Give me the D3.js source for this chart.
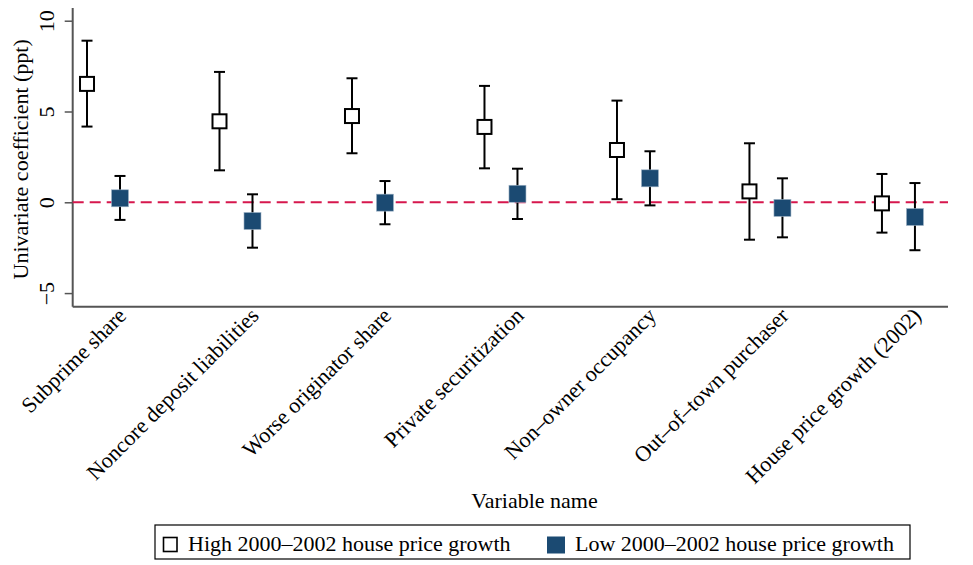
<!DOCTYPE html>
<html>
<head>
<meta charset="utf-8">
<script src="https://cdn.jsdelivr.net/npm/d3@7"></script>
<style>
  body { margin: 0; background: #fff; }
  svg { display: block; font-family: "Liberation Serif", "Times New Roman", serif; }
</style>
</head>
<body>
<svg id="chart" width="973" height="565"></svg>
<script>
const categories = ["Subprime share", "Noncore deposit liabilities", "Worse originator share",
  "Private securitization", "Non\u2013owner occupancy", "Out\u2013of\u2013town purchaser",
  "House price growth (2002)"];
const highCoef = [6.52, 4.46, 4.75, 4.15, 2.88, 0.60, -0.06];
const highLo   = [4.17, 1.76, 2.70, 1.87, 0.17, -2.06, -1.67];
const highHi   = [8.90, 7.18, 6.83, 6.41, 5.60, 3.25, 1.56];
const lowCoef  = [0.22, -1.03, -0.02, 0.47, 1.32, -0.31, -0.81];
const lowLo    = [-0.97, -2.50, -1.21, -0.92, -0.17, -1.93, -2.64];
const lowHi    = [1.45, 0.44, 1.17, 1.85, 2.81, 1.32, 1.06];
const yTicks = [-5, 0, 5, 10];
const yTickLabels = ["\u22125", "0", "5", "10"];
const seriesNames = ["High 2000\u20132002 house price growth", "Low 2000\u20132002 house price growth"];

const svg = d3.select("#chart");
const x = d3.scaleLinear().domain([0.7675, 7.374]).range([72.7, 948]);
const y = d3.scaleLinear().domain([-5.75, 10.7]).range([306.7, 8]);
const off = 0.1245;
const navy = "#1b4a72";

// axes
const yAxis = d3.axisLeft(y).tickValues(yTicks).tickSize(8).tickFormat((d, i) => yTickLabels[i]);
const gy = svg.append("g").attr("transform", "translate(72.7,0)").call(yAxis);
gy.select(".domain").attr("stroke", "#555").attr("stroke-width", 2).attr("d", `M0,${y.range()[1]}V${y.range()[0]}`);
gy.selectAll(".tick line").attr("stroke", "#555").attr("stroke-width", 1.5);
gy.selectAll(".tick text").remove();
gy.selectAll(".tick").append("text")
  .attr("transform", "translate(-19,0) rotate(-90)")
  .attr("text-anchor", "middle")
  .attr("fill", "#000")
  .style("font-size", "22px")
  .style("font-family", "Liberation Serif, serif")
  .text((d, i) => yTickLabels[i]);

svg.append("line").attr("x1", 72.7).attr("x2", 948).attr("y1", 306.7).attr("y2", 306.7)
  .attr("stroke", "#555").attr("stroke-width", 2);

// zero line
svg.append("line").attr("x1", x.range()[0]).attr("x2", x.range()[1]).attr("y1", y(0)).attr("y2", y(0))
  .attr("stroke", "#d6174d").attr("stroke-width", 2).attr("stroke-dasharray", "11,6");

// y title
svg.append("text").attr("transform", `translate(28,${(y(10.7) + y(-5.75)) / 2 + 2}) rotate(-90)`)
  .attr("text-anchor", "middle").style("font-size", "22px").text("Univariate coefficient (ppt)");

// x labels
svg.selectAll(".xlab").data(categories).enter().append("text")
  .attr("class", "xlab")
  .attr("transform", (d, i) => `translate(${x(i + 1) + 24},317) rotate(-45)`)
  .attr("text-anchor", "end").style("font-size", "22px").text(d => d);

svg.append("text").attr("x", 534.5).attr("y", 508).attr("text-anchor", "middle")
  .style("font-size", "22px").text("Variable name");

// error bars + markers
function drawSeries(coef, lo, hi, dx, filled) {
  const g = svg.append("g");
  const cap = 5.5;
  coef.forEach((c, i) => {
    const cx = x(i + 1 + dx);
    g.append("line").attr("x1", cx).attr("x2", cx).attr("y1", y(lo[i])).attr("y2", y(hi[i]))
      .attr("stroke", "#000").attr("stroke-width", 2);
    [lo[i], hi[i]].forEach(v => g.append("line").attr("x1", cx - cap).attr("x2", cx + cap)
      .attr("y1", y(v)).attr("y2", y(v)).attr("stroke", "#000").attr("stroke-width", 2));
    if (filled) {
      g.append("rect").attr("x", cx - 8.5).attr("y", y(c) - 8.5).attr("width", 17).attr("height", 17)
        .attr("fill", navy).attr("stroke", "#9fb3c6").attr("stroke-width", 0.6);
    } else {
      g.append("rect").attr("x", cx - 7).attr("y", y(c) - 7).attr("width", 14).attr("height", 14)
        .attr("fill", "#fff").attr("stroke", "#000").attr("stroke-width", 2);
    }
  });
}
drawSeries(highCoef, highLo, highHi, -off, false);
drawSeries(lowCoef, lowLo, lowHi, off, true);

// legend
const lg = svg.append("g");
lg.append("rect").attr("x", 155).attr("y", 525).attr("width", 755).attr("height", 34)
  .attr("fill", "#fff").attr("stroke", "#000").attr("stroke-width", 1.2);
lg.append("rect").attr("x", 163.5).attr("y", 537.5).attr("width", 13.5).attr("height", 14)
  .attr("fill", "#fff").attr("stroke", "#000").attr("stroke-width", 1.6);
lg.append("text").attr("x", 188).attr("y", 551).style("font-size", "22px").text(seriesNames[0]);
lg.append("rect").attr("x", 547).attr("y", 536.5).attr("width", 18).attr("height", 17)
  .attr("fill", navy);
lg.append("text").attr("x", 575).attr("y", 551).style("font-size", "22px").text(seriesNames[1]);
</script>
</body>
</html>
